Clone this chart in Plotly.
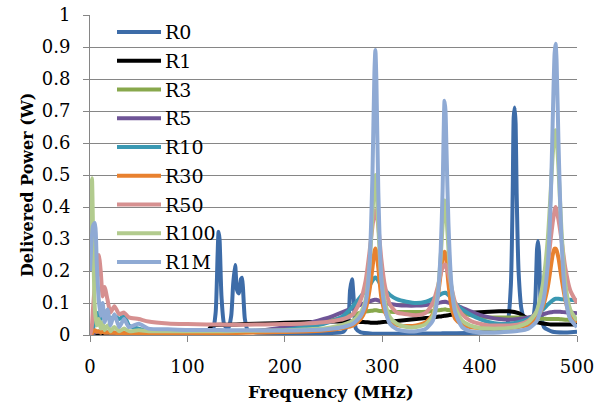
import plotly.graph_objects as go

# Shared frequency grid (MHz) for the terminated-load sweeps
freq = [0, 1, 2, 3, 5, 7, 9, 11, 13, 15,
        18, 21, 25, 30, 35, 40, 50, 60, 80, 100,
        120, 125, 140, 160, 180, 200, 220, 240, 250, 260,
        270, 278, 283, 287, 290, 292, 293, 294, 296, 299,
        303, 308, 315, 325, 335, 345, 352, 357, 360, 362,
        364, 365, 366, 368, 371, 375, 382, 390, 400, 410,
        420, 430, 440, 450, 458, 465, 470, 473, 475, 477,
        478, 479, 481, 484, 488, 493, 500]

# Short-circuit load uses its own sweep points
freq_r0 = [0, 20, 60, 100, 120, 126, 129, 131, 132, 133,
           135, 138, 142, 145, 147, 149, 151, 153, 155, 156,
           157, 159, 162, 170, 200, 240, 260, 265, 267, 269,
           271, 273, 278, 290, 320, 360, 400, 420, 428, 432,
           434, 435, 436, 437, 438, 440, 443, 448, 454, 457,
           459, 460, 461, 463, 466, 475, 490, 500]
p_r0 = [0.0, 0.005, 0.005, 0.005, 0.008, 0.015, 0.07, 0.25, 0.323, 0.3,
        0.12, 0.03, 0.02, 0.06, 0.16, 0.219, 0.14, 0.13, 0.175, 0.179,
        0.15, 0.05, 0.015, 0.008, 0.006, 0.006, 0.01, 0.04, 0.14, 0.174,
        0.1, 0.02, 0.008, 0.004, 0.004, 0.005, 0.008, 0.015, 0.03, 0.15,
        0.45, 0.68, 0.711, 0.66, 0.45, 0.2, 0.08, 0.03, 0.04, 0.1,
        0.27, 0.294, 0.26, 0.08, 0.025, 0.01, 0.008, 0.01]

p_r1 = [0.0, 0.0, 0.002, 0.004, 0.006, 0.005, 0.006, 0.004, 0.005, 0.004,
        0.004, 0.004, 0.004, 0.004, 0.004, 0.004, 0.004, 0.004, 0.005, 0.005,
        0.008, 0.03, 0.032, 0.034, 0.036, 0.038, 0.04, 0.041, 0.042, 0.042,
        0.042, 0.041, 0.04, 0.039, 0.038, 0.038, 0.038, 0.038, 0.039, 0.04,
        0.041, 0.042, 0.044, 0.047, 0.05, 0.053, 0.055, 0.057, 0.058, 0.059,
        0.06, 0.06, 0.061, 0.062, 0.063, 0.065, 0.067, 0.069, 0.071, 0.073,
        0.074, 0.074, 0.068, 0.05, 0.04, 0.036, 0.034, 0.033, 0.033, 0.033,
        0.033, 0.033, 0.033, 0.033, 0.033, 0.033, 0.033]

p_r3 = [0.0, 0.0, 0.003, 0.005, 0.008, 0.01, 0.01, 0.008, 0.01, 0.008,
        0.008, 0.007, 0.007, 0.006, 0.006, 0.006, 0.006, 0.006, 0.006, 0.006,
        0.007, 0.007, 0.008, 0.011, 0.015, 0.021, 0.03, 0.04, 0.047, 0.055,
        0.064, 0.07, 0.073, 0.075, 0.076, 0.077, 0.077, 0.077, 0.076, 0.075,
        0.074, 0.073, 0.072, 0.072, 0.072, 0.073, 0.075, 0.077, 0.078, 0.079,
        0.08, 0.08, 0.079, 0.078, 0.076, 0.073, 0.068, 0.062, 0.057, 0.055,
        0.055, 0.055, 0.055, 0.053, 0.052, 0.051, 0.05, 0.05, 0.05, 0.05,
        0.05, 0.05, 0.05, 0.049, 0.048, 0.047, 0.046]

p_r5 = [0.0, 0.0, 0.003, 0.005, 0.008, 0.01, 0.01, 0.008, 0.01, 0.008,
        0.008, 0.007, 0.007, 0.006, 0.006, 0.006, 0.006, 0.006, 0.006, 0.006,
        0.007, 0.007, 0.008, 0.011, 0.016, 0.024, 0.034, 0.05, 0.06, 0.072,
        0.085, 0.095, 0.1, 0.105, 0.108, 0.11, 0.11, 0.11, 0.108, 0.105,
        0.1, 0.097, 0.094, 0.092, 0.092, 0.094, 0.097, 0.1, 0.102, 0.103,
        0.104, 0.104, 0.103, 0.101, 0.098, 0.094, 0.085, 0.075, 0.063, 0.055,
        0.05, 0.048, 0.05, 0.055, 0.06, 0.065, 0.069, 0.071, 0.072, 0.073,
        0.073, 0.073, 0.073, 0.072, 0.071, 0.07, 0.068]

p_r10 = [0.0, 0.005, 0.01, 0.02, 0.04, 0.06, 0.07, 0.05, 0.07, 0.05,
         0.065, 0.045, 0.06, 0.05, 0.06, 0.03, 0.02, 0.012, 0.008, 0.006,
         0.006, 0.006, 0.007, 0.009, 0.012, 0.016, 0.024, 0.035, 0.045, 0.06,
         0.09, 0.12, 0.14, 0.155, 0.17, 0.178, 0.18, 0.178, 0.17, 0.155,
         0.14, 0.125, 0.112, 0.104, 0.1, 0.104, 0.113, 0.122, 0.127, 0.13,
         0.132, 0.132, 0.13, 0.125, 0.115, 0.1, 0.08, 0.065, 0.05, 0.04,
         0.035, 0.035, 0.04, 0.05, 0.065, 0.08, 0.095, 0.103, 0.108, 0.112,
         0.113, 0.113, 0.113, 0.112, 0.11, 0.11, 0.108]

p_r30 = [0.0, 0.0, 0.005, 0.01, 0.015, 0.01, 0.012, 0.008, 0.01, 0.008,
         0.008, 0.007, 0.007, 0.006, 0.006, 0.006, 0.006, 0.006, 0.006, 0.006,
         0.006, 0.006, 0.006, 0.007, 0.008, 0.009, 0.011, 0.014, 0.017, 0.022,
         0.03, 0.05, 0.08, 0.14, 0.21, 0.26, 0.27, 0.26, 0.21, 0.12,
         0.07, 0.045, 0.032, 0.028, 0.03, 0.04, 0.065, 0.12, 0.19, 0.24,
         0.26, 0.255, 0.23, 0.16, 0.09, 0.05, 0.032, 0.025, 0.022, 0.021,
         0.021, 0.022, 0.025, 0.032, 0.05, 0.09, 0.15, 0.21, 0.25, 0.27,
         0.27, 0.265, 0.24, 0.18, 0.11, 0.06, 0.04]

p_r50 = [0.0, 0.01, 0.03, 0.08, 0.16, 0.23, 0.25, 0.2, 0.12, 0.15,
         0.11, 0.07, 0.09, 0.065, 0.07, 0.055, 0.05, 0.042, 0.036, 0.034,
         0.033, 0.033, 0.032, 0.032, 0.033, 0.034, 0.036, 0.04, 0.044, 0.05,
         0.065, 0.11, 0.17, 0.26, 0.34, 0.38, 0.39, 0.38, 0.34, 0.24,
         0.15, 0.095, 0.07, 0.065, 0.062, 0.07, 0.1, 0.15, 0.19, 0.21,
         0.22, 0.22, 0.21, 0.19, 0.15, 0.1, 0.065, 0.045, 0.035, 0.03,
         0.03, 0.03, 0.033, 0.045, 0.07, 0.13, 0.22, 0.3, 0.35, 0.39,
         0.4, 0.39, 0.36, 0.3, 0.21, 0.14, 0.1]

p_r100 = [0.3, 0.45, 0.49, 0.35, 0.08, 0.03, 0.05, 0.02, 0.04, 0.015,
          0.03, 0.012, 0.025, 0.012, 0.02, 0.012, 0.015, 0.012, 0.012, 0.012,
          0.012, 0.012, 0.012, 0.013, 0.014, 0.015, 0.017, 0.02, 0.025, 0.032,
          0.045, 0.07, 0.11, 0.22, 0.38, 0.48, 0.5, 0.47, 0.34, 0.18,
          0.1, 0.055, 0.035, 0.025, 0.025, 0.035, 0.06, 0.13, 0.24, 0.34,
          0.42, 0.41, 0.37, 0.27, 0.15, 0.085, 0.045, 0.03, 0.022, 0.02,
          0.02, 0.022, 0.027, 0.04, 0.07, 0.16, 0.3, 0.45, 0.56, 0.63,
          0.64, 0.62, 0.52, 0.33, 0.16, 0.08, 0.045]

p_r1m = [0.2, 0.26, 0.31, 0.34, 0.35, 0.22, 0.11, 0.06, 0.1, 0.04,
         0.08, 0.03, 0.065, 0.025, 0.05, 0.025, 0.035, 0.02, 0.018, 0.016,
         0.016, 0.016, 0.015, 0.015, 0.014, 0.014, 0.015, 0.017, 0.02, 0.025,
         0.035, 0.06, 0.1, 0.22, 0.5, 0.82, 0.891, 0.8, 0.45, 0.18,
         0.08, 0.035, 0.018, 0.012, 0.012, 0.02, 0.045, 0.12, 0.26, 0.45,
         0.732, 0.7, 0.58, 0.35, 0.16, 0.07, 0.025, 0.012, 0.008, 0.007,
         0.008, 0.01, 0.013, 0.02, 0.04, 0.1, 0.22, 0.42, 0.66, 0.88,
         0.91, 0.86, 0.6, 0.3, 0.12, 0.05, 0.025]

series_names = ["R0", "R1", "R3", "R5", "R10", "R30", "R50", "R100", "R1M"]
series_colors = ["#3D6CA8", "#000000", "#88A84C", "#6F5597", "#3A98B2",
                 "#E8812F", "#D69090", "#B2CB8E", "#8FAAD4"]
series_x = [freq_r0] + [freq] * 8
series_y = [p_r0, p_r1, p_r3, p_r5, p_r10, p_r30, p_r50, p_r100, p_r1m]

serif = "DejaVu Serif"
grid_gray = "#868686"

# Plot-area geometry in pixels, used to lay out the key inside the axes
fig_w, fig_h = 601, 406
m_l, m_r, m_t, m_b = 90, 24, 15, 71
plot_w = fig_w - m_l - m_r
plot_h = fig_h - m_t - m_b


def px_to_paper_x(px):
    return (px - m_l) / plot_w


def px_to_paper_y(py):
    return (fig_h - m_b - py) / plot_h


fig = go.Figure()
for name, color, xs, ys in zip(series_names, series_colors, series_x, series_y):
    fig.add_trace(go.Scatter(
        x=xs, y=ys, name=name, mode="lines",
        line=dict(color=color, width=4, shape="spline", smoothing=0.6),
        showlegend=False,
    ))

# Key: a short line sample and the load name for every series
key_top, key_step = 32, 28.75
key_x0, key_x1, key_text_x = 117, 161, 163
for i, (name, color) in enumerate(zip(series_names, series_colors)):
    ky = px_to_paper_y(key_top + i * key_step)
    fig.add_shape(type="line", xref="paper", yref="paper",
                  x0=px_to_paper_x(key_x0), x1=px_to_paper_x(key_x1), y0=ky, y1=ky,
                  line=dict(color=color, width=4))
    fig.add_annotation(text=name, xref="paper", yref="paper",
                       x=px_to_paper_x(key_text_x), y=ky,
                       xanchor="left", yanchor="middle", showarrow=False,
                       font=dict(family=serif, size=19, color="black"))

# Axis titles placed as paper annotations so the plot area stays fixed
fig.add_annotation(text="<b>Frequency (MHz)</b>", xref="paper", yref="paper",
                   x=px_to_paper_x(331), y=px_to_paper_y(392),
                   xanchor="center", yanchor="middle", showarrow=False,
                   font=dict(family=serif, size=17, color="black"))
fig.add_annotation(text="<b>Delivered Power (W)</b>", xref="paper", yref="paper",
                   x=px_to_paper_x(27), y=px_to_paper_y(185), textangle=-90,
                   xanchor="center", yanchor="middle", showarrow=False,
                   font=dict(family=serif, size=16, color="black"))

fig.update_layout(
    width=fig_w, height=fig_h,
    margin=dict(l=m_l, r=m_r, t=m_t, b=m_b),
    paper_bgcolor="white", plot_bgcolor="white",
    font=dict(family=serif, color="black", size=18),
    showlegend=False,
    xaxis=dict(
        range=[0, 500], tickvals=[0, 100, 200, 300, 400, 500],
        showgrid=False, zeroline=False, automargin=False,
        showline=True, linecolor=grid_gray, linewidth=1,
        ticks="outside", ticklen=6, tickcolor=grid_gray,
        tickfont=dict(family=serif, size=18), ticklabelstandoff=9,
    ),
    yaxis=dict(
        range=[0, 1], tickvals=[0, 0.1, 0.2, 0.3, 0.4, 0.5, 0.6, 0.7, 0.8, 0.9, 1],
        ticktext=["0", "0.1", "0.2", "0.3", "0.4", "0.5", "0.6", "0.7", "0.8", "0.9", "1"],
        showgrid=True, gridcolor=grid_gray, gridwidth=1,
        zeroline=False, automargin=False,
        showline=True, linecolor=grid_gray, linewidth=1,
        ticks="outside", ticklen=6, tickcolor=grid_gray,
        tickfont=dict(family=serif, size=18), ticklabelstandoff=9,
    ),
)

fig.write_html("out.html")
